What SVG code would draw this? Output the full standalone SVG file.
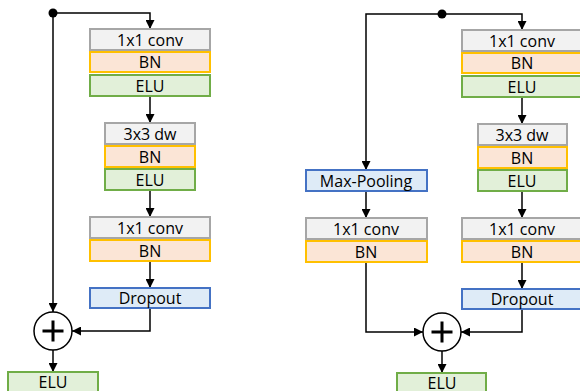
<svg xmlns="http://www.w3.org/2000/svg" width="580" height="391" viewBox="0 0 580 391">
<defs>
<marker id="ah" viewBox="0 0 10 10" refX="10" refY="5" markerWidth="9" markerHeight="9" markerUnits="userSpaceOnUse" orient="auto">
<path d="M0,0 L10,5 L0,10 Z" fill="#000"/>
</marker>
<style>
.g{fill:#f2f2f2;stroke:#a6a6a6;stroke-width:2}
.b{fill:#fbe5d6;stroke:#ffc000;stroke-width:2}
.e{fill:#e2f0d9;stroke:#70ad47;stroke-width:2}
.d{fill:#deebf7;stroke:#4472c4;stroke-width:2}
text{font-family:"Open Sans","Liberation Sans",sans-serif;font-size:16px;fill:#000;text-anchor:middle}
.c{fill:none;stroke:#000;stroke-width:1.5}
.a{marker-end:url(#ah)}
.sum{fill:#fff;stroke:#000;stroke-width:1.5}
.plus{stroke:#000;stroke-width:3;fill:none}
</style>
</defs>
<g id="connectors">
<path class="c a" d="M53,13 H150 V29"/>
<path class="c a" d="M53,13 V312"/>
<path class="c a" d="M150,96 V123"/>
<path class="c a" d="M150,190 V217"/>
<path class="c a" d="M150,261 V288"/>
<path class="c a" d="M150,308 V331 H72"/>
<path class="c a" d="M53,350 V372"/>
<path class="c a" d="M442,14 H522 V30"/>
<path class="c a" d="M442,14 H366 V170"/>
<path class="c a" d="M366,191 V218"/>
<path class="c a" d="M522,97 V124"/>
<path class="c a" d="M522,191 V218"/>
<path class="c a" d="M522,262 V289"/>
<path class="c a" d="M366,262 V332 H423"/>
<path class="c a" d="M522,309 V332 H461"/>
<path class="c a" d="M442,351 V373"/>
<circle cx="53" cy="13" r="4.5" fill="#000"/>
<circle cx="442" cy="14" r="4.5" fill="#000"/>
</g>
<g id="l_conv1"><rect class="g" x="90" y="29" width="120" height="21"/><text x="150" y="45.5">1x1 conv</text></g>
<g id="l_bn1"><rect class="b" x="90" y="52" width="120" height="20"/><text x="150" y="67.5">BN</text></g>
<g id="l_elu1"><rect class="e" x="90" y="75" width="120" height="21"/><text x="150" y="91.5">ELU</text></g>
<g id="l_dw"><rect class="g" x="105" y="123" width="90" height="21"/><text x="150" y="139.5">3x3 dw</text></g>
<g id="l_bn2"><rect class="b" x="105" y="146" width="90" height="21"/><text x="150" y="162.5">BN</text></g>
<g id="l_elu2"><rect class="e" x="105" y="169" width="90" height="21"/><text x="150" y="185.5">ELU</text></g>
<g id="l_conv2"><rect class="g" x="90" y="217" width="120" height="21"/><text x="150" y="233.5">1x1 conv</text></g>
<g id="l_bn3"><rect class="b" x="90" y="240" width="120" height="21"/><text x="150" y="256.5">BN</text></g>
<g id="l_drop"><rect class="d" x="90" y="288" width="120" height="20"/><text x="150" y="303.5">Dropout</text></g>
<g id="l_sum"><circle class="sum" cx="53" cy="331" r="19"/><path class="plus" d="M42.5,331 H63.5 M53,320.5 V341.5"/></g>
<g id="l_elu_out"><rect class="e" x="8" y="372" width="90" height="24"/><text x="53" y="388">ELU</text></g>

<g id="r_pool"><rect class="d" x="306" y="170" width="121" height="21"/><text x="366" y="186.5">Max-Pooling</text></g>
<g id="r_conv_s"><rect class="g" x="306" y="218" width="121" height="21"/><text x="366" y="234.5">1x1 conv</text></g>
<g id="r_bn_s"><rect class="b" x="306" y="241" width="121" height="21"/><text x="366" y="257.5">BN</text></g>
<g id="r_conv1"><rect class="g" x="462" y="30" width="120" height="21"/><text x="522" y="46.5">1x1 conv</text></g>
<g id="r_bn1"><rect class="b" x="462" y="53" width="120" height="20"/><text x="522" y="68.5">BN</text></g>
<g id="r_elu1"><rect class="e" x="462" y="76" width="120" height="21"/><text x="522" y="92.5">ELU</text></g>
<g id="r_dw"><rect class="g" x="478" y="124" width="89" height="21"/><text x="522" y="140.5">3x3 dw</text></g>
<g id="r_bn2"><rect class="b" x="478" y="147" width="89" height="21"/><text x="522" y="163.5">BN</text></g>
<g id="r_elu2"><rect class="e" x="478" y="170" width="89" height="21"/><text x="522" y="186.5">ELU</text></g>
<g id="r_conv2"><rect class="g" x="462" y="218" width="120" height="21"/><text x="522" y="234.5">1x1 conv</text></g>
<g id="r_bn3"><rect class="b" x="462" y="241" width="120" height="21"/><text x="522" y="257.5">BN</text></g>
<g id="r_drop"><rect class="d" x="462" y="289" width="120" height="20"/><text x="522" y="304.5">Dropout</text></g>
<g id="r_sum"><circle class="sum" cx="442" cy="332" r="19"/><path class="plus" d="M431.5,332 H452.5 M442,321.5 V342.5"/></g>
<g id="r_elu_out"><rect class="e" x="397" y="373" width="89" height="24"/><text x="442" y="389">ELU</text></g>
</svg>
